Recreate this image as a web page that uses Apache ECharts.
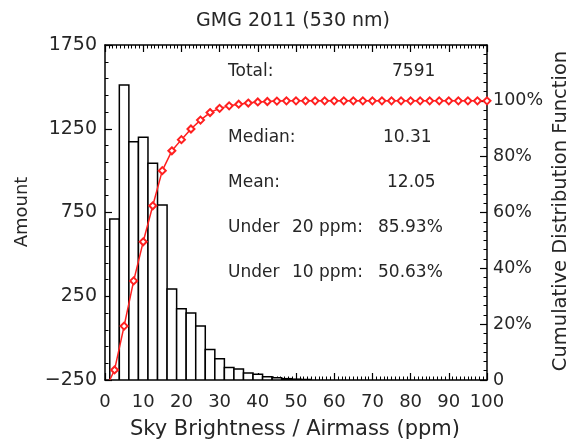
<!DOCTYPE html>
<html>
<head>
<meta charset="utf-8">
<script src="https://cdn.jsdelivr.net/npm/echarts@6/dist/echarts.min.js"></script>
<style>html,body{margin:0;padding:0;background:#fff}#c{width:570px;height:441px}</style>
</head>
<body>
<div id="c"></div>
<script>
// ---- data ----
const binCenters = [2.5, 5, 7.5, 10, 12.5, 15, 17.5, 20, 22.5, 25, 27.5, 30, 32.5, 35, 37.5, 40, 42.5, 45, 47.5, 50, 52.5];
const barTops    = [711, 1511, 1173, 1199, 1044, 795, 293, 175, 150, 72, -68, -123, -176, -184, -208, -215, -230, -237, -242, -245, -247];
const binWidth = 2.5;

const cdfX   = [1.25, 2.5, 5, 7.5, 10, 12.5, 15, 17.5, 20, 22.5, 25, 27.5, 30, 32.5, 35, 37.5, 40, 42.5, 45, 47.5, 50, 52.5, 55, 57.5, 60, 62.5, 65, 67.5, 70, 72.5, 75, 77.5, 80, 82.5, 85, 87.5, 90, 92.5, 95, 97.5, 100];
const cdfPct = [0, 3.6, 19.3, 35.5, 49.5, 62.4, 75.0, 82.1, 86.1, 89.9, 93.1, 95.8, 97.3, 98.2, 98.8, 99.2, 99.6, 99.75, 99.9, 100, 100, 100, 100, 100, 100, 100, 100, 100, 100, 100, 100, 100, 100, 100, 100, 100, 100, 100, 100, 100, 100];

const xTicks = [0, 10, 20, 30, 40, 50, 60, 70, 80, 90, 100];
const leftTicks = [-250, 250, 750, 1250, 1750];
const rightTicks = [0, 20, 40, 60, 80, 100];

const titleText = 'GMG 2011 (530 nm)';
const xName = 'Sky Brightness / Airmass (ppm)';
const yName = 'Amount';
const y2Name = 'Cumulative Distribution Function';
const stats = [
  ['Total:', '7591'],
  ['Median:', '10.31'],
  ['Mean:', '12.05']
];
const underRows = [
  ['Under', '20 ppm:', '85.93%'],
  ['Under', '10 ppm:', '50.63%']
];

// ---- chart ----
const FONT = '"DejaVu Sans", sans-serif';
const TXT = '#262626';
const chart = echarts.init(document.getElementById('c'), null, {renderer: 'canvas'});

const yMin = leftTicks[0], yMax = leftTicks[leftTicks.length - 1];
const histData = binCenters.map((c, i) => [c - binWidth / 2, c + binWidth / 2, barTops[i]]);
const cdfData = cdfX.map((x, i) => i === 0 ? {value: [x, cdfPct[i]], symbol: 'none'} : [x, cdfPct[i]]);

const statY = [72, 138, 183];
const statValX = [392, 383, 387];
const underY = [228, 273];
const graphics = [];
function txt(text, x, y, size, align, rot) {
  graphics.push({type: 'text', x: x, y: y, rotation: rot || 0, silent: true,
    style: {text: text, fill: TXT, font: size + 'px ' + FONT, textAlign: align || 'left', textVerticalAlign: 'middle'}});
}
txt(titleText, 293, 21, 19, 'center');
txt(xName, 295, 430, 21, 'center');
txt(yName, 22, 212, 18, 'center', Math.PI / 2);
txt(y2Name, 561, 211, 19.5, 'center', Math.PI / 2);
stats.forEach((s, i) => { txt(s[0], 228, statY[i], 17); txt(s[1], statValX[i], statY[i], 17); });
underRows.forEach((r, i) => { txt(r[0], 228, underY[i], 17); txt(r[1], 292, underY[i], 17); txt(r[2], 378, underY[i], 17); });

const axisLine = {show: true, onZero: false, lineStyle: {color: '#000', width: 1.5}};
const tick = {show: true, inside: true, length: 7, lineStyle: {color: '#000', width: 1.2}};
const option = {
  animation: false,
  backgroundColor: '#fff',
  grid: {left: 105, right: 83, top: 45, bottom: 61, show: false},
  xAxis: [
    {type: 'value', position: 'bottom', min: xTicks[0], max: xTicks[xTicks.length - 1], interval: 10,
     axisLine: axisLine, splitLine: {show: false}, axisTick: tick,
     minorTick: {show: true, splitNumber: 10, length: 3.5, lineStyle: {color: '#000', width: 1}},
     axisLabel: {color: TXT, fontSize: 18, fontFamily: FONT, margin: 13}},
    {type: 'value', position: 'top', min: xTicks[0], max: xTicks[xTicks.length - 1], interval: 10,
     axisLine: axisLine, splitLine: {show: false}, axisTick: tick,
     minorTick: {show: true, splitNumber: 10, length: 3.5, lineStyle: {color: '#000', width: 1}},
     axisLabel: {show: false}}
  ],
  yAxis: [
    {type: 'value', position: 'left', min: yMin, max: yMax, interval: 500,
     axisLine: axisLine, splitLine: {show: false}, axisTick: tick,
     minorTick: {show: true, splitNumber: 5, length: 3.5, lineStyle: {color: '#000', width: 1}},
     axisLabel: {color: TXT, fontSize: 19, fontFamily: FONT, margin: 8,
                 formatter: v => String(v).replace('-', '\u2212')}},
    {type: 'value', position: 'right', min: 0, max: 120, interval: 20,
     axisLine: axisLine, splitLine: {show: false}, axisTick: tick,
     minorTick: {show: true, splitNumber: 6, length: 3.5, lineStyle: {color: '#000', width: 1}},
     axisLabel: {color: TXT, fontSize: 17.5, fontFamily: FONT, margin: 6,
                 formatter: v => rightTicks.indexOf(v) < 0 ? '' : (v === 0 ? '0' : v + '%')}}
  ],
  graphic: graphics,
  series: [
    {type: 'custom', xAxisIndex: 0, yAxisIndex: 0, clip: true,
     encode: {x: [0, 1], y: 2},
     data: histData,
     renderItem: function (params, api) {
       const p0 = api.coord([api.value(0), yMin]);
       const p1 = api.coord([api.value(1), api.value(2)]);
       return {type: 'rect',
         shape: {x: p0[0], y: p1[1], width: p1[0] - p0[0], height: p0[1] - p1[1]},
         style: {fill: '#fff', stroke: '#000', lineWidth: 1.5}};
     }},
    {type: 'line', xAxisIndex: 0, yAxisIndex: 1, data: cdfData,
     symbol: 'emptyDiamond', symbolSize: 7,
     lineStyle: {color: '#ff2020', width: 1.5},
     itemStyle: {color: '#ff2020', borderColor: '#ff2020', borderWidth: 1.5},
     z: 5}
  ]
};
chart.setOption(option);
</script>
</body>
</html>
